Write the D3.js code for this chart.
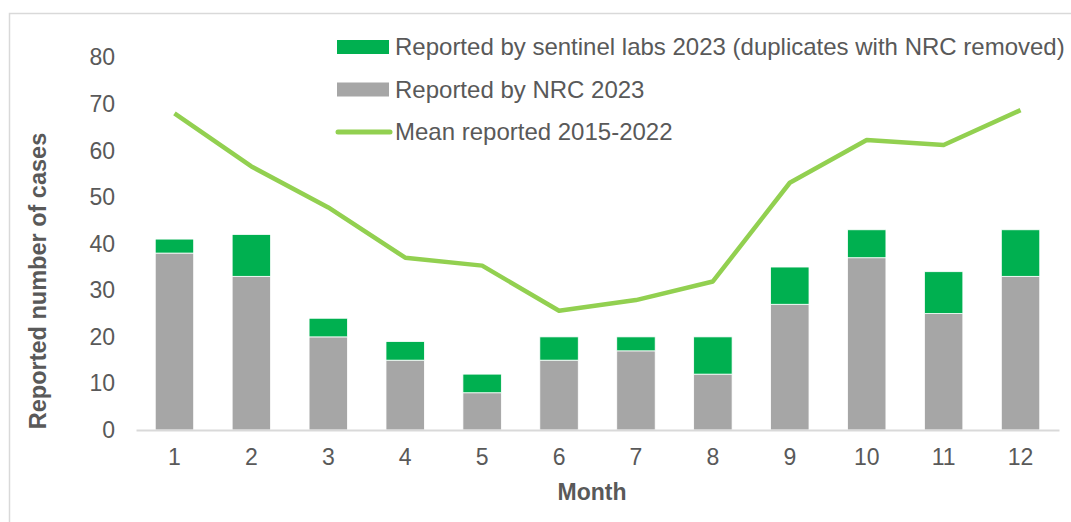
<!DOCTYPE html>
<html>
<head>
<meta charset="UTF-8">
<script src="https://cdn.jsdelivr.net/npm/d3@7"></script>
<style>
  body { margin: 0; background: #fff; }
  svg text { font-family: "Liberation Sans", Arial, sans-serif; fill: #595959; }
</style>
</head>
<body>
<svg width="1071" height="522"></svg>
<script>
// data
const months = ['1', '2', '3', '4', '5', '6', '7', '8', '9', '10', '11', '12'];
const nrc2023 = [38, 33, 20, 15, 8, 15, 17, 12, 27, 37, 25, 33];
const sentinel2023 = [3, 9, 4, 4, 4, 5, 3, 8, 8, 6, 9, 10];
const mean2015_2022 = [68.0, 56.6, 47.8, 37.0, 35.3, 25.6, 27.9, 31.9, 53.1, 62.3, 61.2, 68.7];
const yTicks = [0, 10, 20, 30, 40, 50, 60, 70, 80];

const svg = d3.select('svg');

// chart frame
svg.append('rect')
  .attr('x', 9.5).attr('y', 13.5)
  .attr('width', 1100).attr('height', 540)
  .attr('fill', 'none')
  .attr('stroke', '#d9d9d9')
  .attr('stroke-width', 1.5);

const plotLeft = 136, plotRight = 1059, plotTop = 57.5, plotBottom = 430;

const x = d3.scaleBand().domain(months).range([plotLeft, plotRight]).paddingInner(0.5).paddingOuter(0.25);
const y = d3.scaleLinear().domain([0, 80]).range([plotBottom, plotTop]);

// stacked bars
const rows = months.map((m, i) => ({ month: m, nrc: nrc2023[i], sentinel: sentinel2023[i] }));
const stack = d3.stack().keys(['nrc', 'sentinel'])(rows);
const colors = { nrc: '#a6a6a6', sentinel: '#00b050' };

svg.append('g').selectAll('g')
  .data(stack)
  .join('g')
  .attr('fill', d => colors[d.key])
  .selectAll('rect')
  .data(d => d)
  .join('rect')
  .attr('x', d => x(d.data.month))
  .attr('width', x.bandwidth())
  .attr('y', d => y(d[1]))
  .attr('height', d => y(d[0]) - y(d[1]))
  .attr('stroke', '#ffffff')
  .attr('stroke-width', 0.8);

// x axis
const xAxis = svg.append('g')
  .attr('transform', `translate(0, ${plotBottom})`)
  .call(d3.axisBottom(x).tickSize(0).tickPadding(19));
xAxis.select('.domain').attr('stroke', '#d9d9d9').attr('stroke-width', 2);
xAxis.selectAll('text').attr('font-size', 23).attr('dy', '0.71em');

// y axis
const yAxis = svg.append('g')
  .attr('transform', `translate(${plotLeft}, 0)`)
  .call(d3.axisLeft(y).tickValues(yTicks).tickSize(0).tickPadding(21));
yAxis.select('.domain').remove();
yAxis.selectAll('text').attr('font-size', 23);

// mean line
const line = d3.line()
  .x((d, i) => x(months[i]) + x.bandwidth() / 2)
  .y(d => y(d));

svg.append('path')
  .datum(mean2015_2022)
  .attr('fill', 'none')
  .attr('stroke', '#92d050')
  .attr('stroke-width', 4.5)
  .attr('stroke-linejoin', 'round')
  .attr('d', line);

// axis titles
svg.append('text')
  .attr('transform', 'rotate(-90)')
  .attr('x', -281)
  .attr('y', 46)
  .attr('text-anchor', 'middle')
  .attr('font-size', 23.5)
  .attr('font-weight', 'bold')
  .text('Reported number of cases');

svg.append('text')
  .attr('x', 592)
  .attr('y', 500)
  .attr('text-anchor', 'middle')
  .attr('font-size', 23)
  .attr('font-weight', 'bold')
  .text('Month');

// legend
const legendItems = [
  { label: 'Reported by sentinel labs 2023 (duplicates with NRC removed)', color: '#00b050', type: 'rect' },
  { label: 'Reported by NRC 2023', color: '#a6a6a6', type: 'rect' },
  { label: 'Mean reported 2015-2022', color: '#92d050', type: 'line' }
];

const legend = svg.append('g')
  .selectAll('g')
  .data(legendItems)
  .join('g')
  .attr('transform', (d, i) => `translate(337, ${47 + i * 42.5})`);

legend.filter(d => d.type === 'rect').append('rect')
  .attr('x', 0).attr('y', -7)
  .attr('width', 52).attr('height', 14)
  .attr('fill', d => d.color);

legend.filter(d => d.type === 'line').append('line')
  .attr('x1', 1).attr('x2', 53)
  .attr('y1', 0).attr('y2', 0)
  .attr('stroke', d => d.color)
  .attr('stroke-width', 5)
  .attr('stroke-linecap', 'round');

legend.append('text')
  .attr('x', 58)
  .attr('y', 0)
  .attr('dy', '0.35em')
  .attr('font-size', 24)
  .text(d => d.label);
</script>
</body>
</html>
